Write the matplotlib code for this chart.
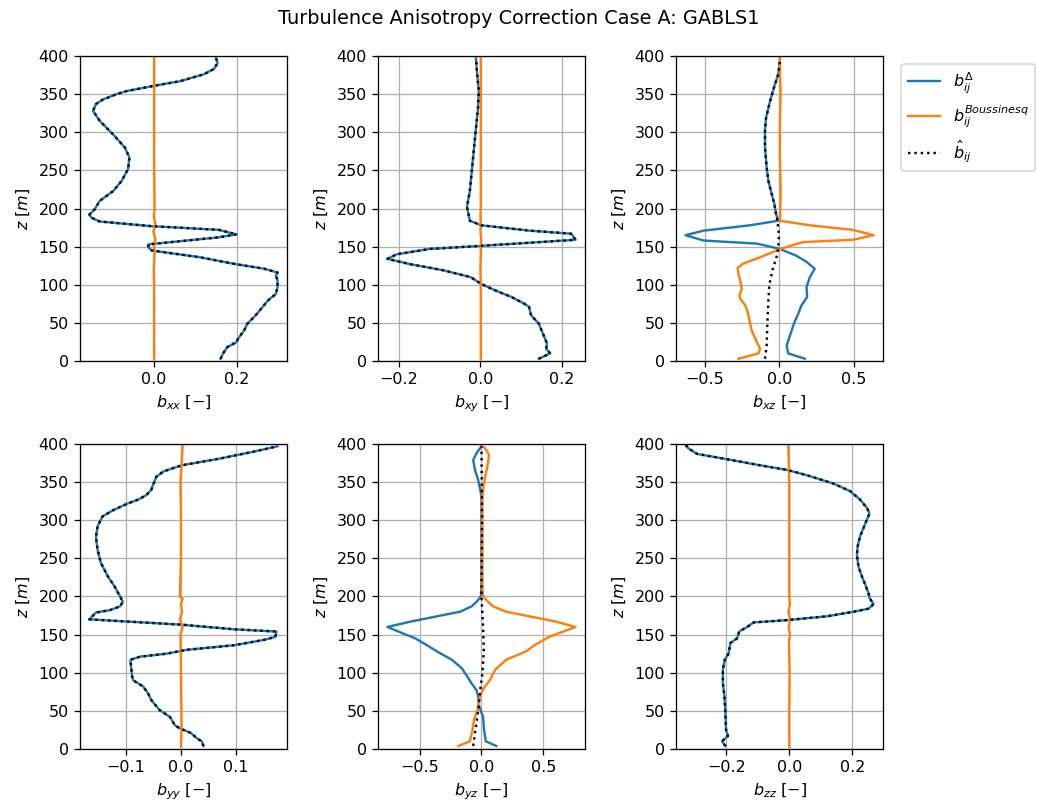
import numpy as np
import matplotlib.pyplot as plt

# ---- b_xx ----
z_xx = [3, 10, 18, 25, 29, 40, 49, 60, 71, 79, 88, 97, 106, 112, 116, 121, 127, 136, 145, 149, 153,
        162, 166, 172, 177, 183, 188, 192, 199, 210, 223, 236, 252, 267, 280, 297, 315, 328, 337, 343,
        350, 354, 361, 367, 376, 383, 391, 397]
delta_xx = [0.161, 0.167, 0.177, 0.200, 0.203, 0.218, 0.226, 0.246, 0.263, 0.275, 0.295, 0.299, 0.299,
            0.295, 0.299, 0.267, 0.198, 0.112, -0.006, -0.014, -0.014, 0.153, 0.200, 0.157, -0.010,
            -0.132, -0.152, -0.157, -0.144, -0.132, -0.099, -0.079, -0.063, -0.060, -0.071, -0.099,
            -0.132, -0.148, -0.141, -0.124, -0.091, -0.067, 0.0, 0.063, 0.120, 0.145, 0.154, 0.150]
z_bous = [3, 50, 100, 120, 140, 150, 160, 170, 180, 190, 200, 250, 300, 350, 397]
bous_xx = [0.0, 0.0, 0.0, -0.001, 0.001, 0.0, 0.003, -0.002, 0.003, -0.001, 0.001, 0.0, 0.0, 0.0, 0.0]

# ---- b_xy ----
z_xy = [3, 10, 16, 23, 36, 49, 60, 71, 75, 84, 92, 101, 110, 119, 127, 134, 140, 147, 151, 159, 167,
        171, 178, 184, 202, 223, 245, 289, 332, 354, 376, 397]
delta_xy = [0.143, 0.171, 0.161, 0.163, 0.153, 0.143, 0.124, 0.119, 0.108, 0.076, 0.039, 0.002,
            -0.024, -0.091, -0.172, -0.228, -0.205, -0.124, 0.0, 0.233, 0.222, 0.120, 0.002, -0.026,
            -0.033, -0.026, -0.022, -0.014, -0.006, -0.004, -0.008, -0.011]
bous_xy = [0.001, 0.001, 0.001, 0.0, 0.001, 0.001, 0.002, 0.0, 0.001, 0.0, 0.001, 0.001, 0.001, 0.001, 0.001]

# ---- b_xz ----
z_xz = [3, 10, 20, 36, 49, 62, 73, 84, 97, 110, 121, 130, 138, 147, 154, 158, 165, 171, 178, 184,
        193, 206, 219, 236, 254, 280, 302, 319, 341, 363, 376, 393, 397]
delta_xz = [0.171, 0.060, 0.049, 0.076, 0.098, 0.127, 0.149, 0.187, 0.183, 0.205, 0.238, 0.183,
            0.116, 0.004, -0.151, -0.508, -0.630, -0.508, -0.196, -0.007, -0.022, -0.033, -0.051,
            -0.073, -0.085, -0.096, -0.096, -0.089, -0.062, -0.029, -0.007, 0.004, 0.004]
z_xz_b = [3, 10, 16, 27, 40, 53, 66, 73, 82, 86, 95, 106, 114, 122, 128, 136, 145, 151, 156, 159,
          165, 172, 178, 184, 202, 223, 267, 311, 354, 376, 397]
bous_xz = [-0.274, -0.140, -0.129, -0.156, -0.185, -0.200, -0.214, -0.229, -0.263, -0.267, -0.252,
           -0.263, -0.274, -0.280, -0.240, -0.129, -0.018, 0.071, 0.160, 0.494, 0.633, 0.494, 0.205,
           0.004, 0.007, 0.009, 0.004, 0.004, 0.009, 0.004, 0.004]
z_xz_h = [3, 20, 50, 80, 100, 120, 140, 150, 165, 184, 193, 206, 219, 236, 254, 280, 302, 319, 341,
          363, 376, 393, 397]
hat_xz = [-0.096, -0.085, -0.080, -0.073, -0.067, -0.045, -0.013, -0.007, -0.002, -0.013, -0.022,
          -0.033, -0.051, -0.073, -0.085, -0.096, -0.096, -0.089, -0.062, -0.029, -0.007, 0.004, 0.004]

# ---- b_yy ----
z_yy = [4, 10, 14, 21, 27, 31, 42, 51, 64, 73, 82, 90, 95, 108, 117, 121, 125, 130, 136, 143, 147,
        154, 157, 163, 170, 179, 182, 187, 193, 200, 213, 226, 244, 261, 278, 292, 305, 313, 322, 327,
        333, 340, 348, 357, 364, 372, 381, 390, 397]
delta_yy = [0.041, 0.038, 0.029, 0.018, -0.002, -0.011, -0.020, -0.039, -0.054, -0.060, -0.069,
            -0.087, -0.089, -0.091, -0.092, -0.075, -0.026, 0.010, 0.096, 0.151, 0.172, 0.174, 0.096,
            0.001, -0.167, -0.155, -0.130, -0.111, -0.106, -0.111, -0.121, -0.133, -0.146, -0.152,
            -0.155, -0.152, -0.143, -0.124, -0.097, -0.078, -0.063, -0.054, -0.050, -0.045, -0.032,
            0.001, 0.072, 0.133, 0.176]
z_yy_b = [3, 30, 100, 150, 160, 170, 180, 190, 197, 200, 250, 300, 350, 397]
bous_yy = [0.0, 0.001, 0.0, -0.001, 0.003, -0.002, 0.002, 0.0, 0.003, -0.002, 0.0, 0.0, -0.001, 0.003]

# ---- b_yz ----
z_yz = [4, 10, 25, 42, 56, 69, 77, 86, 95, 106, 117, 128, 136, 145, 151, 160, 167, 174, 180, 187,
        193, 200, 213, 265, 331, 342, 353, 366, 379, 388, 397]
delta_yz = [0.120, 0.035, 0.021, 0.013, -0.019, -0.027, -0.040, -0.080, -0.115, -0.160, -0.240,
            -0.361, -0.441, -0.535, -0.628, -0.762, -0.575, -0.361, -0.174, -0.080, -0.040, -0.005,
            0.0, 0.0, 0.0, -0.013, -0.027, -0.053, -0.067, -0.040, 0.0]
z_yz_b = [4, 10, 25, 38, 51, 69, 80, 90, 104, 117, 128, 136, 147, 160, 167, 174, 180, 187, 193, 200,
          213, 265, 331, 348, 361, 375, 386, 395, 397]
bous_yz = [-0.187, -0.094, -0.072, -0.061, -0.032, -0.013, 0.019, 0.067, 0.112, 0.200, 0.361, 0.428,
           0.548, 0.762, 0.602, 0.388, 0.200, 0.094, 0.053, 0.013, 0.008, 0.008, 0.008, 0.019, 0.035,
           0.053, 0.061, 0.027, 0.0]
z_yz_h = [4, 50, 80, 100, 130, 160, 200, 300, 397]
hat_yz = [-0.067, -0.027, -0.008, 0.008, 0.019, 0.013, 0.0, 0.005, 0.0]

# ---- b_zz ----
z_zz = [4, 10, 17, 25, 47, 69, 86, 104, 117, 125, 139, 145, 154, 160, 166, 169, 174, 180, 184, 190,
        198, 204, 213, 226, 239, 254, 265, 279, 292, 309, 316, 327, 338, 348, 359, 366, 372, 380, 387,
        394, 399]
delta_zz = [-0.203, -0.214, -0.195, -0.201, -0.203, -0.206, -0.211, -0.211, -0.205, -0.193, -0.187,
            -0.166, -0.159, -0.134, -0.113, -0.007, 0.120, 0.204, 0.252, 0.268, 0.255, 0.252, 0.244,
            0.231, 0.220, 0.215, 0.217, 0.225, 0.238, 0.255, 0.247, 0.225, 0.194, 0.141, 0.056,
            -0.007, -0.092, -0.198, -0.293, -0.320, -0.330]
z_zz_b = [3, 50, 100, 140, 150, 160, 170, 180, 190, 200, 250, 300, 350, 397]
bous_zz = [0.0, 0.0, 0.001, -0.001, 0.002, -0.002, 0.003, -0.003, 0.002, 0.0, 0.0, 0.0, 0.0, -0.003]

panels = [
    ('xx', z_xx, delta_xx, z_bous, bous_xx, z_xx, delta_xx),
    ('xy', z_xy, delta_xy, z_bous, bous_xy, z_xy, delta_xy),
    ('xz', z_xz, delta_xz, z_xz_b, bous_xz, z_xz_h, hat_xz),
    ('yy', z_yy, delta_yy, z_yy_b, bous_yy, z_yy, delta_yy),
    ('yz', z_yz, delta_yz, z_yz_b, bous_yz, z_yz_h, hat_yz),
    ('zz', z_zz, delta_zz, z_zz_b, bous_zz, z_zz, delta_zz),
]

DPI = 115.2
fig, axes = plt.subplots(2, 3, figsize=(1037 / DPI, 805 / DPI), dpi=DPI)
fig.subplots_adjust(left=0.0771, right=0.8515, top=0.9304, bottom=0.0696, wspace=0.44, hspace=0.272)

for ax, (comp, zd, bd, zb, bb, zh, bh) in zip(axes.flat, panels):
    ax.plot(bd, zd, color='C0', label=r'$b_{ij}^{\Delta}$')
    ax.plot(bb, zb, color='C1', label=r'$b_{ij}^{Boussinesq}$')
    ax.plot(bh, zh, 'k:', label=r'$\hat{b}_{ij}$')
    ax.set_ylim(0, 400)
    ax.set_xlabel(r'$b_{%s}$ $[-]$' % comp)
    ax.set_ylabel(r'$z$ $[m]$')
    ax.grid(True)

axes[0, 2].legend(bbox_to_anchor=(1.05, 1), loc='upper left')
fig.suptitle('Turbulence Anisotropy Correction Case A: GABLS1', y=0.989)
fig.savefig('out.png', dpi=DPI)
